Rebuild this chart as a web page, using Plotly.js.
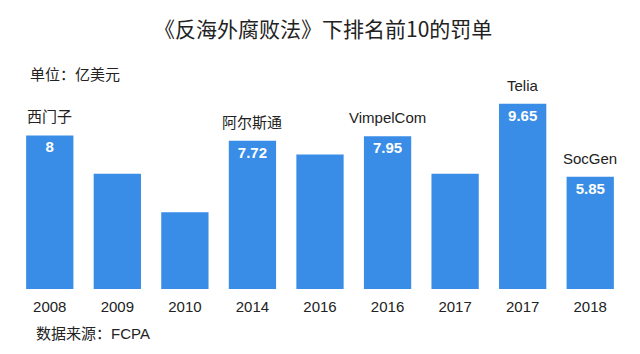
<!DOCTYPE html>
<html>
<head>
<meta charset="utf-8">
<script src="https://cdn.plot.ly/plotly-3.0.1.min.js"></script>
<style>html,body{margin:0;padding:0;background:#fff;}#chart{width:640px;height:354px;}</style>
</head>
<body>
<div id="chart"></div>
<script>
const years = ['2008','2009','2010','2014','2016','2016','2017','2017','2018'];
const fines = [8, 6.0, 4.0, 7.72, 7.0, 7.95, 6.0, 9.65, 5.85];
const shownValues = ['8','','','7.72','','7.95','','9.65','5.85'];
const companies = ['西门子','','','阿尔斯通','','VimpelCom','','Telia','SocGen'];

const FONT = 'Liberation Sans, Arial, Noto Sans CJK SC, sans-serif';
const idx = years.map((_, i) => i);

const trace = {
  type: 'bar',
  x: idx,
  y: fines,
  text: shownValues,
  textposition: 'inside',
  insidetextanchor: 'end',
  textfont: {family: FONT, size: 15, color: '#ffffff', weight: 'bold'},
  marker: {color: '#3a8de6', line: {width: 0}},
  hoverinfo: 'none'
};

const annotations = [];
companies.forEach((c, i) => {
  if (!c) return;
  annotations.push({
    x: i, y: fines[i], xref: 'x', yref: 'y',
    text: c, showarrow: false, yanchor: 'bottom', yshift: 8,
    font: {family: FONT, size: 15, color: '#222222'}
  });
});
annotations.push({
  xref: 'paper', yref: 'paper', x: 0.02, y: 1.115, xanchor: 'left', yanchor: 'middle',
  text: '单位：亿美元', showarrow: false,
  font: {family: FONT, size: 15, color: '#222222'}
});
annotations.push({
  xref: 'paper', yref: 'paper', x: 0.03, y: -0.23, xanchor: 'left', yanchor: 'middle',
  text: '数据来源：FCPA', showarrow: false,
  font: {family: FONT, size: 15, color: '#222222'}
});

const layout = {
  width: 640, height: 354,
  margin: {l: 16, r: 16, t: 97, b: 65},
  paper_bgcolor: '#ffffff', plot_bgcolor: '#ffffff',
  title: {
    text: '《反海外腐败法》下排名前10的罚单',
    x: 0.505, xanchor: 'center', y: 0.915, yanchor: 'middle',
    font: {family: 'Noto Sans CJK SC, sans-serif', size: 21, color: '#222222'}
  },
  bargap: 0.3,
  showlegend: false,
  xaxis: {
    range: [-0.5, 8.5], tickvals: idx, ticktext: years,
    showgrid: false, zeroline: false, showline: false, ticks: '',
    ticklabelstandoff: 7,
    tickfont: {family: FONT, size: 15, color: '#222222'}
  },
  yaxis: {range: [0, 10], visible: false, showgrid: false, zeroline: false},
  annotations: annotations
};

Plotly.newPlot('chart', [trace], layout, {displayModeBar: false, staticPlot: true});
</script>
</body>
</html>
